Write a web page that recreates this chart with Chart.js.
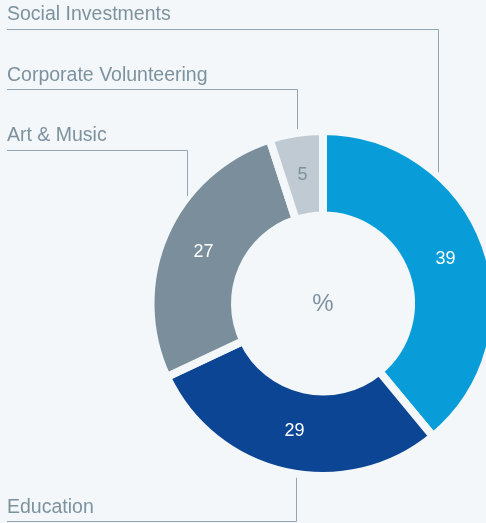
<!DOCTYPE html>
<html>
<head>
<meta charset="utf-8">
<script src="https://cdn.jsdelivr.net/npm/chart.js@4.4.0/dist/chart.umd.min.js"></script>
<style>
  html, body { margin: 0; padding: 0; background: #f3f7f9; overflow: hidden; }
  #wrap { width: 520px; height: 523px; }
</style>
</head>
<body>
<div id="wrap"><canvas id="donut"></canvas></div>
<script>
// Données (en %)
const categories = ["Social Investments", "Education", "Art & Music", "Corporate Volunteering"];
const shares = [39, 29, 27, 5];
const sliceColors = ["#089dd9", "#0b4594", "#7a8f9b", "#bfcad3"];
const valueColors = ["#ffffff", "#ffffff", "#ffffff", "#7d929f"];

const BG = "#f3f7f9";
const GREY = "#7d929f";
const LINE = "#93a6b2";

// Étiquettes à gauche, avec ligne de rappel (x de la verticale, y du soulignement)
const callouts = [
  { text: categories[0], baseline: 20, underline: 29, elbowX: 438, up: true },
  { text: categories[1], baseline: 513, underline: 521, elbowX: 296, up: false },
  { text: categories[2], baseline: 141, underline: 150, elbowX: 187, up: true },
  { text: categories[3], baseline: 81, underline: 89, elbowX: 297, up: true }
];

const labelsPlugin = {
  id: "labels",
  afterDatasetsDraw(chart) {
    const ctx = chart.ctx;
    const arcs = chart.getDatasetMeta(0).data;
    const cx = arcs[0].x, cy = arcs[0].y;
    const rOut = arcs[0].outerRadius - 4;
    ctx.save();

    // valeurs dans les segments
    ctx.font = "18px 'Liberation Sans', Arial, sans-serif";
    ctx.textAlign = "center";
    ctx.textBaseline = "middle";
    arcs.forEach((arc, i) => {
      const p = arc.tooltipPosition();
      ctx.fillStyle = valueColors[i];
      ctx.fillText(String(shares[i]), p.x, p.y);
    });

    // "%" au centre
    ctx.fillStyle = GREY;
    ctx.font = "24px 'Liberation Sans', Arial, sans-serif";
    ctx.fillText("%", cx, cy + 1);

    // légendes + lignes
    ctx.font = "19.5px 'Liberation Sans', Arial, sans-serif";
    ctx.textAlign = "left";
    ctx.textBaseline = "alphabetic";
    ctx.strokeStyle = LINE;
    ctx.lineWidth = 1;
    callouts.forEach(c => {
      ctx.fillStyle = GREY;
      ctx.fillText(c.text, 7, c.baseline);
      const dx = c.elbowX - cx;
      const dy = Math.sqrt(Math.max(rOut * rOut - dx * dx, 0));
      const endY = c.up ? cy - dy - 8 : cy + dy + 8;
      ctx.beginPath();
      ctx.moveTo(7, c.underline + 0.5);
      ctx.lineTo(c.elbowX + 0.5, c.underline + 0.5);
      ctx.lineTo(c.elbowX + 0.5, endY);
      ctx.stroke();
    });
    ctx.restore();
  }
};

new Chart(document.getElementById("donut"), {
  type: "doughnut",
  data: {
    labels: categories,
    datasets: [{
      data: shares,
      backgroundColor: sliceColors,
      borderColor: BG,
      borderWidth: 8
    }]
  },
  options: {
    responsive: true,
    maintainAspectRatio: false,
    animation: false,
    cutout: 88,
    layout: { padding: { left: 146.5, right: 20.5, top: 127, bottom: 43 } },
    plugins: { legend: { display: false }, tooltip: { enabled: false } }
  },
  plugins: [labelsPlugin]
});
</script>
</body>
</html>
